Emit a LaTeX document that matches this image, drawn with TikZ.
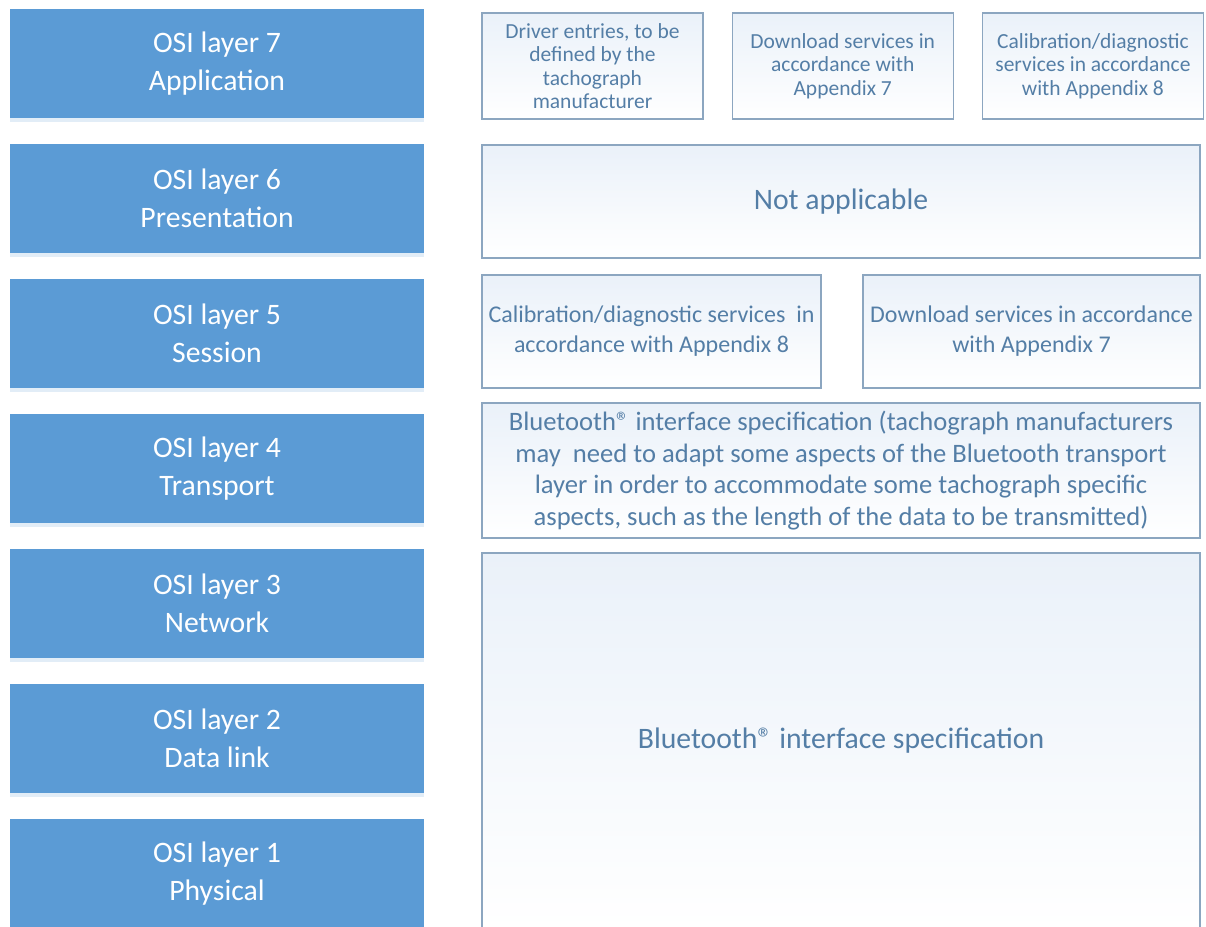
\documentclass[tikz,border=0pt]{standalone}
\usepackage{fontspec}
\setmainfont{Carlito}
\usetikzlibrary{positioning,shadows}
\definecolor{osiblue}{RGB}{91,155,213}
\definecolor{specline}{RGB}{140,166,192}
\definecolor{spectext}{RGB}{84,126,166}
\definecolor{specfill}{RGB}{234,241,249}
\newcommand\regmark{®}
\begin{document}
\begin{tikzpicture}[x=1pt, y=-1pt,
		layer/.style = {fill=osiblue, text=white, minimum width=414pt, minimum height=109pt, inner sep=0pt, align=center,
			font=\fontsize{29.7}{38}\selectfont, drop shadow={shadow xshift=0pt, shadow yshift=-4pt, fill=osiblue!35, opacity=0.5}},
		spec/.style = {draw=specline, line width=1.2pt, top color=specfill, bottom color=white, text=spectext, inner sep=0pt, align=center},
		small/.style = {font=\fontsize{21.5}{23.5}\selectfont, minimum width=221pt, minimum height=106pt}]
	\clip (0,0) rectangle (1206,926);
	% OSI layers
	\node[layer] (l7) at (217,63.5) {OSI layer 7\\Application};
	\node[layer] (l6) at (217,198.5) {OSI layer 6\\Presentation};
	\node[layer] (l5) at (217,333.5) {OSI layer 5\\Session};
	\node[layer] (l4) at (217,468.5) {OSI layer 4\\Transport};
	\node[layer] (l3) at (217,603.5) {OSI layer 3\\Network};
	\node[layer] (l2) at (217,738.5) {OSI layer 2\\Data link};
	\node[layer] (l1) at (217,873.5) {OSI layer 1\\Physical};
	% application
	\node[spec, small] (drv) at (592.5,66) {Driver entries, to be\\defined by the\\tachograph\\manufacturer};
	\node[spec, small, right=28pt of drv] (dl7) {Download services in\\accordance with\\Appendix 7};
	\node[spec, small, right=28pt of dl7] (cal8) {Calibration/diagnostic\\services in accordance\\with Appendix 8};
	% presentation
	\node[spec, minimum width=718pt, minimum height=113pt, font=\fontsize{29.7}{36}\selectfont] (na) at (841,201.5) {Not applicable};
	% session
	\node[spec, minimum width=339pt, minimum height=113pt, font=\fontsize{24}{30}\selectfont] (scal) at (651.5,331.5)
		{Calibration/diagnostic services~ in\\accordance with Appendix 8};
	\node[spec, minimum width=337pt, minimum height=113pt, font=\fontsize{24}{30}\selectfont] (sdl) at (1031.5,331.5)
		{Download services in accordance\\with Appendix 7};
	% transport
	\node[spec, minimum width=718pt, minimum height=135pt, font=\fontsize{26.6}{31.5}\selectfont] (tp) at (841,470.5)
		{Bluetooth\regmark{} interface specification (tachograph manufacturers\\may~ need to adapt some aspects of the Bluetooth transport\\layer in order to accommodate some tachograph specific\\aspects, such as the length of the data to be transmitted)};
	% network to physical
	\node[spec, minimum width=718pt, minimum height=376pt, font=\fontsize{29.7}{36}\selectfont] (bt) at (841,741)
		{Bluetooth\regmark{} interface specification};
\end{tikzpicture}
\end{document}
